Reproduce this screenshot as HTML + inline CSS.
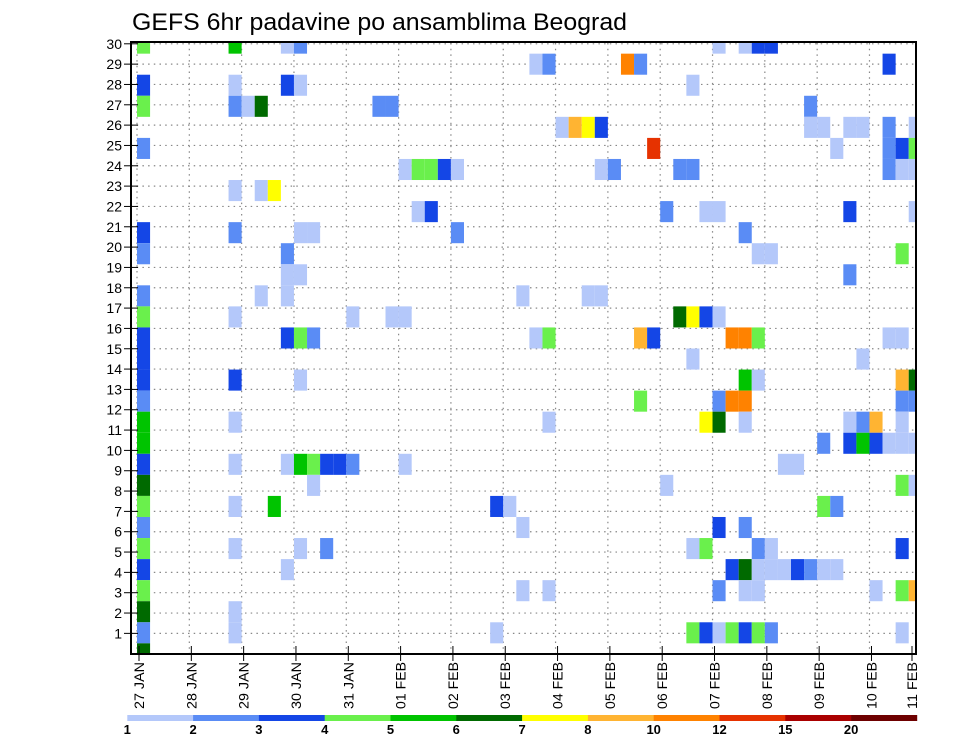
<!DOCTYPE html>
<html>
<head>
<meta charset="utf-8">
<style>
  html, body { margin:0; padding:0; background:#fff; }
  body { width:960px; height:742px; overflow:hidden; }
  svg { display:block; font-family:"Liberation Sans", sans-serif; }
</style>
</head>
<body>
<svg id="chart" width="960" height="742" viewBox="0 0 960 742" xmlns="http://www.w3.org/2000/svg">
  <text x="132" y="30" font-size="24" textLength="495" lengthAdjust="spacingAndGlyphs" fill="#000">GEFS 6hr padavine po ansamblima Beograd</text>
  <defs><clipPath id="plotclip"><rect x="132" y="43" width="784" height="611"/></clipPath></defs>
  <g id="grid"></g>
  <g id="cells" clip-path="url(#plotclip)"></g>
  <rect x="131" y="42" width="785" height="612" fill="none" stroke="#000" stroke-width="2"/>
  <g id="yaxis"></g>
  <g id="xaxis"></g>
  <g id="legend"></g>
</svg>
<script>
// ---- data ----
const dateLabels = ["27 JAN","28 JAN","29 JAN","30 JAN","31 JAN","01 FEB","02 FEB","03 FEB","04 FEB","05 FEB","06 FEB","07 FEB","08 FEB","09 FEB","10 FEB","11 FEB"];
const memberLabels = [1,2,3,4,5,6,7,8,9,10,11,12,13,14,15,16,17,18,19,20,21,22,23,24,25,26,27,28,29,30];
const levelLabels = ["1","2","3","4","5","6","7","8","10","12","15","20"];
const levelValues = [1,2,3,4,5,6,7,8,10,12,15,20];
const levelColors = ["#b4c8fa","#5a8cf5","#1446e6","#6af04c","#00c400","#006a00","#ffff00","#ffb432","#ff8200","#e63200","#aa0000","#6e0000"];
// ensemble rows from top (member 30) to bottom; 6-hour step indices and precip (mm)
const rowMembers = [30,29,28,27,26,25,24,23,22,21,20,19,18,17,16,15,14,13,12,11,10,9,8,7,6,5,4,3,2,1];
const rowSteps = [
  [0,7,11,12,44,46,47,48],
  [30,31,37,38,57],
  [0,7,11,12,42],
  [0,7,8,9,18,19,51],
  [32,33,34,35,51,52,54,55,57,59],
  [0,39,53,57,58,59],
  [20,21,22,23,24,35,36,41,42,57,58,59],
  [7,9,10],
  [21,22,40,43,44,54,59],
  [0,7,12,13,24,46],
  [0,11,47,48,58],
  [11,12,54],
  [0,9,11,29,34,35],
  [0,7,16,19,20,41,42,43,44],
  [0,11,12,13,30,31,38,39,45,46,47,57,58],
  [0,42,55],
  [0,7,12,46,47,58,59],
  [0,38,44,45,46,58,59],
  [0,7,31,43,44,46,54,55,56,58],
  [0,52,54,55,56,57,58,59],
  [0,7,11,12,13,14,15,16,20,49,50],
  [0,13,40,58,59],
  [0,7,10,27,28,52,53],
  [0,29,44,46],
  [0,7,12,14,42,43,47,48,58],
  [0,11,45,46,47,48,49,50,51,52,53],
  [0,29,31,44,46,47,56,58,59],
  [0,7],
  [0,7,27,42,43,44,45,46,47,48,58],
  [0]
];
const rowValues = [
  [4.5,5.5,1.5,2.5,1.5,1.5,3.5,3.5],
  [1.5,2.5,11,2.5,3.5],
  [3.5,1.5,3.5,1.5,1.5],
  [4.5,2.5,1.5,6.5,2.5,2.5,2.5],
  [1.5,9,7.5,3.5,1.5,1.5,1.5,1.5,2.5,1.5],
  [2.5,13.5,1.5,2.5,3.5,4.5],
  [1.5,4.5,4.5,3.5,1.5,1.5,2.5,2.5,2.5,2.5,1.5,1.5],
  [1.5,1.5,7.5],
  [1.5,3.5,2.5,1.5,1.5,3.5,1.5],
  [3.5,2.5,1.5,1.5,2.5,2.5],
  [2.5,2.5,1.5,1.5,4.5],
  [1.5,1.5,2.5],
  [2.5,1.5,1.5,1.5,1.5,1.5],
  [4.5,1.5,1.5,1.5,1.5,6.5,7.5,3.5,1.5],
  [3.5,3.5,4.5,2.5,1.5,4.5,9,3.5,11,11,4.5,1.5,1.5],
  [3.5,1.5,1.5],
  [3.5,3.5,1.5,5.5,1.5,9,6.5],
  [2.5,4.5,2.5,11,11,2.5,2.5],
  [5.5,1.5,1.5,7.5,6.5,1.5,1.5,2.5,9,1.5],
  [5.5,2.5,3.5,5.5,3.5,1.5,1.5,1.5],
  [3.5,1.5,1.5,5.5,4.5,3.5,3.5,2.5,1.5,1.5,1.5],
  [6.5,1.5,1.5,4.5,1.5],
  [4.5,1.5,5.5,3.5,1.5,4.5,2.5],
  [2.5,1.5,3.5,2.5],
  [4.5,1.5,1.5,2.5,1.5,4.5,2.5,1.5,3.5],
  [3.5,1.5,3.5,6.5,1.5,1.5,1.5,3.5,2.5,1.5,1.5],
  [4.5,1.5,1.5,2.5,1.5,1.5,1.5,4.5,9],
  [6.5,1.5],
  [2.5,1.5,1.5,4.5,3.5,1.5,4.5,3.5,4.5,2.5,1.5],
  [6.5]
];

// ---- scales ----
const NS = "http://www.w3.org/2000/svg";
const stepW = 13.08, x0 = 137;
const rowH = 21.06, rowTop = 32.6;
const labelTop = 43.8, labelGap = 20.33;
function xScale(step) { return x0 + step * stepW; }
function yScale(member) { return rowTop + (30 - member) * rowH; }
function yLabel(member) { return labelTop + (30 - member) * labelGap; }
function colorFor(v) {
  let idx = 0;
  for (let i = 0; i < levelValues.length; i++) if (v >= levelValues[i]) idx = i;
  return levelColors[idx];
}
function mk(tag, attrs, parent) {
  const el = document.createElementNS(NS, tag);
  for (const k in attrs) el.setAttribute(k, attrs[k]);
  parent.appendChild(el);
  return el;
}

// ---- grid ----
const grid = document.getElementById("grid");
memberLabels.forEach(m => {
  const ln = mk("line", {x1:131, x2:916, y1:yLabel(m), y2:yLabel(m), stroke:"#888", "stroke-width":1.2, "stroke-dasharray":"1.5 4.2"}, grid);
  
  
});
dateLabels.forEach((d, i) => {
  const x = xScale(i * 4);
  if (x > 915) return;
  const ln = mk("line", {x1:x, x2:x, y1:43, y2:654, stroke:"#888", "stroke-width":1.2, "stroke-dasharray":"1.5 4.2"}, grid);
  
  
});

// ---- cells ----
const cells = document.getElementById("cells");
rowMembers.forEach((m, r) => {
  rowSteps[r].forEach((s, j) => {
    const rc = mk("rect", {x:xScale(s), y:yScale(m), width:stepW, height:rowH, fill:colorFor(rowValues[r][j])}, cells);
    
    
  });
});

// ---- y axis ----
const yaxis = document.getElementById("yaxis");
memberLabels.forEach(m => {
  const y = yLabel(m);
  const t = mk("line", {x1:124, x2:138, y1:y, y2:y, stroke:"#000", "stroke-width":1}, yaxis);
  
  
  const tx = mk("text", {x:122, y:y + 5, "font-size":14, "text-anchor":"end", fill:"#000"}, yaxis);
  tx.textContent = m;
  
  
});

// ---- x axis ----
const xaxis = document.getElementById("xaxis");
dateLabels.forEach((d, i) => {
  const x = Math.min(xScale(i * 4) + 2, 912);
  const t = mk("line", {x1:x, x2:x, y1:646, y2:661, stroke:"#000", "stroke-width":1}, xaxis);
  
  
  const tx = mk("text", {transform:"translate(" + (x + 5) + ",662) rotate(-90)", "font-size":14, "text-anchor":"end", textLength:47, lengthAdjust:"spacingAndGlyphs", fill:"#000"}, xaxis);
  tx.textContent = d;
  
  
});

// ---- legend ----
const legend = document.getElementById("legend");
const lgX = 127.3, lgW = 65.8;
levelColors.forEach((c, i) => {
  const r = mk("rect", {x:lgX + i * lgW, y:715, width:lgW + 0.3, height:6, fill:c}, legend);
  
  
});
levelLabels.forEach((l, i) => {
  const tx = mk("text", {x:lgX + i * lgW, y:734, "font-size":13, "font-weight":"bold", "text-anchor":"middle", fill:"#000"}, legend);
  tx.textContent = l;
  
  
});
</script>
</body>
</html>
